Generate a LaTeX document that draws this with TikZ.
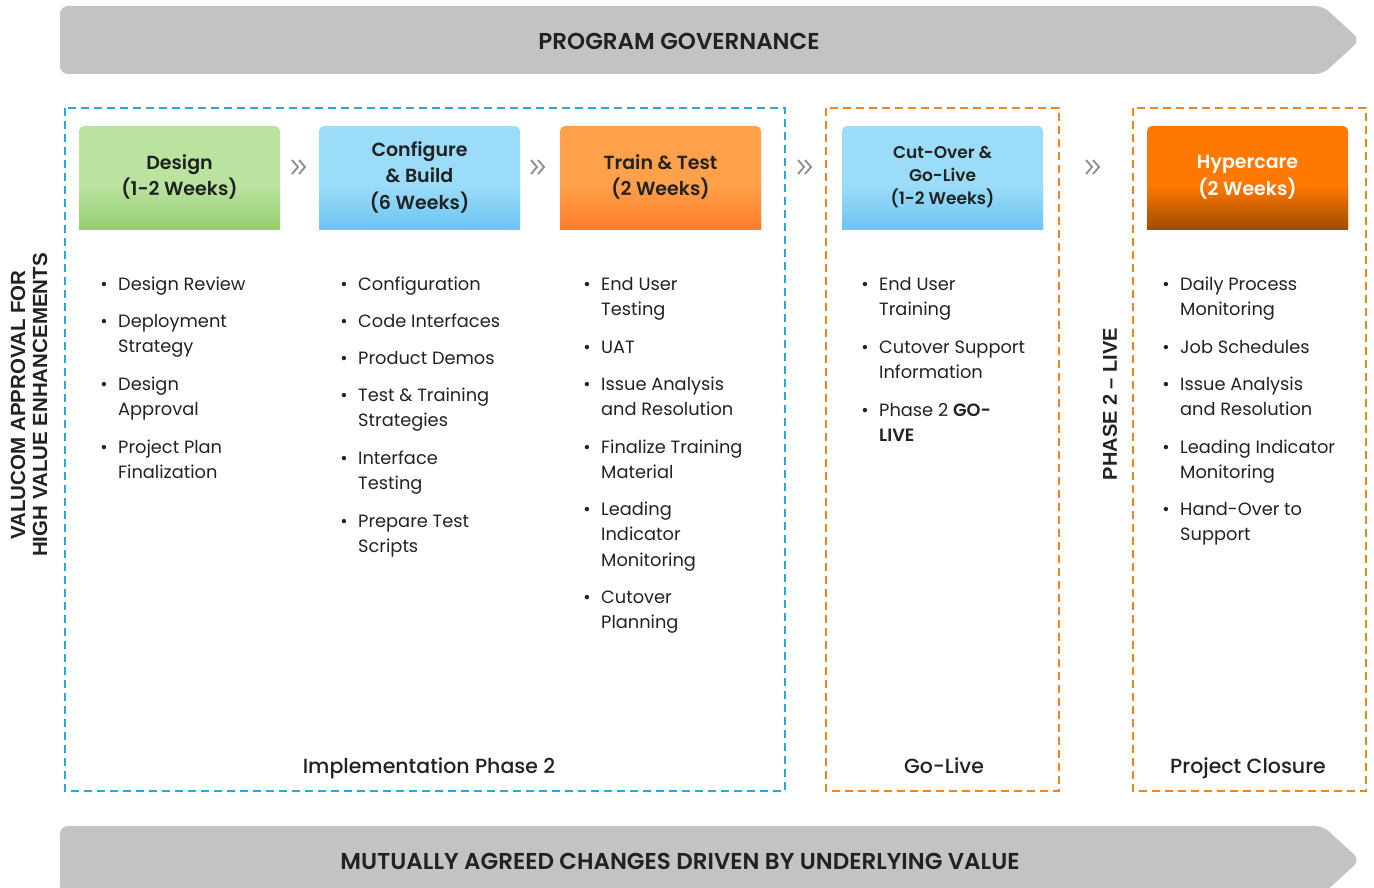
\documentclass[tikz,border=0pt]{standalone}
\usepackage{fontspec}
\setmainfont{Poppins}
\newfontfamily\psemi{Poppins SemiBold}
\newfontfamily\pmed{Poppins Medium}
\newfontfamily\lsans{Liberation Sans}
\definecolor{txt}{HTML}{222222}
\definecolor{bann}{HTML}{C3C3C3}
\definecolor{bantxt}{HTML}{222222}
\definecolor{dblue}{HTML}{2BA6DF}
\definecolor{dorange}{HTML}{F58220}
\definecolor{chevc}{HTML}{8C8C8C}
\definecolor{gTop}{HTML}{BBE3A0}
\definecolor{gBot}{HTML}{97CE72}
\definecolor{bTop}{HTML}{9BDDF9}
\definecolor{bBot}{HTML}{6CC4F2}
\definecolor{oTop}{HTML}{FFA04B}
\definecolor{oBot}{HTML}{FF7B29}
\definecolor{hTop}{HTML}{FF7800}
\definecolor{hBot}{HTML}{A24C00}
\newcommand\itmfont{\fontsize{17.8}{25.5}\selectfont}
\newcommand\phasebox[8]{%
  \fill[#4] (#2,229) [rounded corners=5] -- (#2,126) -- (#3,126) [sharp corners] -- (#3,229) -- cycle;
  \shade[top color=#4, bottom color=#5] (#2,#6) rectangle (#3,229);
  \node[#8] (#1) at ({(#2+#3)/2},177) {#7};
}
\newcommand\bitem[4]{%
  \node[itm, anchor=north west] (#1) at ({#2},{#3-8}) {\rule{0pt}{14pt}#4};
  \node[itm, anchor=base] (#1b) at ([xshift=-14pt,yshift=-14pt]#1.north west) {•};
}
\newcommand\chev[3]{%
  \coordinate (#1) at (#2,#3);
  \draw[chv] ([xshift=-8pt,yshift=7pt]#1) -- ([xshift=-2pt]#1) -- ([xshift=-8pt,yshift=-7pt]#1);
  \draw[chv] ([xshift=-1pt,yshift=7pt]#1) -- ([xshift=5pt]#1) -- ([xshift=-1pt,yshift=-7pt]#1);
}
\begin{document}
\begin{tikzpicture}[x=1pt,y=-1pt,
  itm/.style={inner sep=0pt, align=left, font=\itmfont, text=txt},
  hdr/.style={inner sep=0pt, align=center, font={\psemi\fontsize{19}{26.5}\selectfont}, text=txt},
  hdrs/.style={inner sep=0pt, align=center, font={\psemi\fontsize{17}{23}\selectfont}, text=txt},
  hdrw/.style={hdr, text=white},
  bantext/.style={inner sep=0pt, font={\psemi\fontsize{23}{26}\selectfont}, text=bantxt},
  foot/.style={inner sep=0pt, anchor=base, font={\pmed\fontsize{20.5}{24}\selectfont}, text=txt},
  vlab/.style={inner sep=0pt, align=center, rotate=90, font={\lsans\bfseries\fontsize{20.5}{22}\selectfont}, text=txt},
  bluedash/.style={draw=dblue, line width=1.5pt, dash pattern=on 8pt off 5pt},
  orangedash/.style={draw=dorange, line width=1.5pt, dash pattern=on 8pt off 5pt},
  chv/.style={draw=chevc, line width=1.8pt}]
\useasboundingbox (0,0) rectangle (1374,888);
\clip (0,0) rectangle (1374,888);
% banners
\fill[bann, rounded corners=8] (60,6) -- (1323,6) -- (1360,40) -- (1323,74) -- (60,74) -- cycle;
\node[bantext] (gov) at (679,41) {PROGRAM GOVERNANCE};
\fill[bann, rounded corners=8] (60,826) -- (1323,826) -- (1360,860) -- (1323,894) -- (60,894) -- cycle;
\node[bantext] (mut) at (680,861) {MUTUALLY AGREED CHANGES DRIVEN BY UNDERLYING VALUE};
% dashed frames
\draw[bluedash] (65,108) rectangle (785,791);
\draw[orangedash] (826,108) rectangle (1059,791);
\draw[orangedash] (1133,108) rectangle (1366,791);
% phase headers
\phasebox{design}{79}{280}{gTop}{gBot}{185}{Design\\(1-2 Weeks)}{hdr}
\phasebox{config}{319}{520}{bTop}{bBot}{185}{Configure\\\& Build\\(6 Weeks)}{hdr}
\phasebox{train}{560}{761}{oTop}{oBot}{185}{Train \& Test\\(2 Weeks)}{hdr}
\phasebox{cutover}{842}{1043}{bTop}{bBot}{185}{Cut-Over \&\\Go-Live\\(1-2 Weeks)}{hdrs}
\phasebox{hyper}{1147}{1348}{hTop}{hBot}{185}{Hypercare\\(2 Weeks)}{hdrw}
% chevrons
\chev{ch1}{300}{167}
\chev{ch2}{539}{167}
\chev{ch3}{806}{167}
\chev{ch4}{1094}{167}
% column 1
\bitem{a1}{118}{284}{Design Review}
\bitem{a2}{118}{321}{Deployment\\Strategy}
\bitem{a3}{118}{384}{Design\\Approval}
\bitem{a4}{118}{447}{Project Plan\\Finalization}
% column 2
\bitem{b1}{358}{284}{Configuration}
\bitem{b2}{358}{321}{Code Interfaces}
\bitem{b3}{358}{358}{Product Demos}
\bitem{b4}{358}{395}{Test \& Training\\Strategies}
\bitem{b5}{358}{458}{Interface\\Testing}
\bitem{b6}{358}{521}{Prepare Test\\Scripts}
% column 3
\bitem{c1}{601}{284}{End User\\Testing}
\bitem{c2}{601}{347}{UAT}
\bitem{c3}{601}{384}{Issue Analysis\\and Resolution}
\bitem{c4}{601}{447}{Finalize Training\\Material}
\bitem{c5}{601}{509}{Leading\\Indicator\\Monitoring}
\bitem{c6}{601}{597}{Cutover\\Planning}
% column 4
\bitem{d1}{879}{284}{End User\\Training}
\bitem{d2}{879}{347}{Cutover Support\\Information}
\bitem{d3}{879}{410}{Phase 2 {\psemi GO-}\\{\psemi LIVE}}
% column 5
\bitem{e1}{1180}{284}{Daily Process\\Monitoring}
\bitem{e2}{1180}{347}{Job Schedules}
\bitem{e3}{1180}{384}{Issue Analysis\\and Resolution}
\bitem{e4}{1180}{447}{Leading Indicator\\Monitoring}
\bitem{e5}{1180}{509}{Hand-Over to\\Support}
% footers
\node[foot] (impl) at (429,773) {Implementation Phase 2};
\node[foot] (golive) at (944,773) {Go-Live};
\node[foot] (closure) at (1248,773) {Project Closure};
% vertical labels
\node[vlab] (valucom) at (29,405) {VALUCOM APPROVAL FOR\\HIGH VALUE ENHANCEMENTS};
\node[vlab, font={\lsans\bfseries\fontsize{20}{22}\selectfont}] (phase2) at (1110,404) {PHASE 2 – LIVE};
\end{tikzpicture}
\end{document}
